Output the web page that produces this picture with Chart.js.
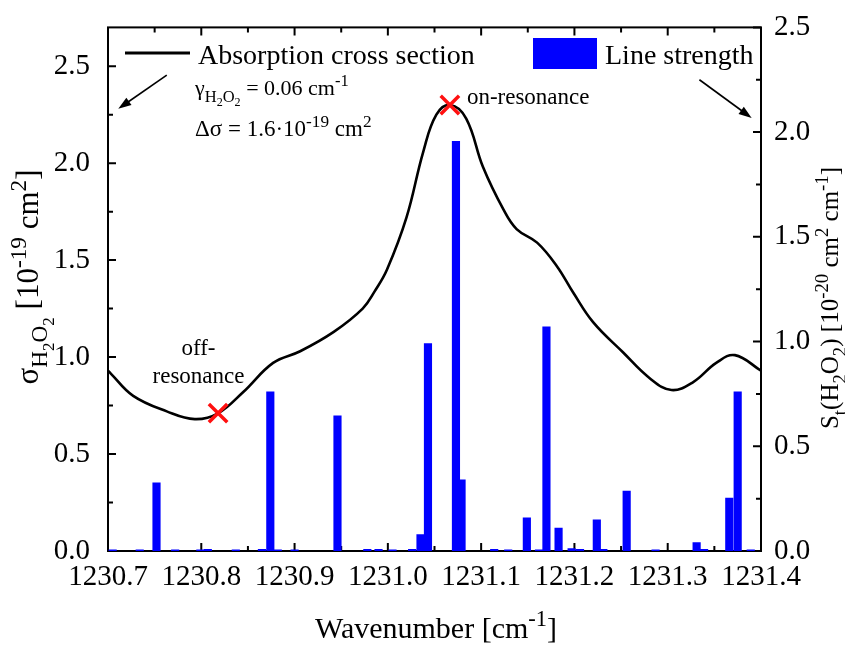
<!DOCTYPE html>
<html>
<head>
<meta charset="utf-8">
<script src="https://cdn.jsdelivr.net/npm/chart.js@4.4.1/dist/chart.umd.min.js"></script>
<style>
  body { margin: 0; background: #fff; }
  #wrap { width: 845px; height: 646px; }
</style>
</head>
<body>
<div id="wrap"><canvas id="chart" width="845" height="646"></canvas></div>
<script>
// absorption cross section (left axis, 1e-19 cm2)
const CURVE_X = [1230.700, 1230.703, 1230.727, 1230.763, 1230.793, 1230.818, 1230.845, 1230.877,
  1230.906, 1230.942, 1230.973, 1230.986, 1230.999, 1231.020, 1231.038, 1231.052, 1231.067,
  1231.084, 1231.102, 1231.124, 1231.138, 1231.160, 1231.181, 1231.199, 1231.220, 1231.252,
  1231.281, 1231.304, 1231.327, 1231.352, 1231.372, 1231.400];
const CURVE_Y = [0.93, 0.915, 0.80, 0.72, 0.68, 0.71, 0.82, 0.97,
  1.03, 1.13, 1.25, 1.34, 1.45, 1.72, 2.06, 2.25, 2.30,
  2.23, 1.98, 1.76, 1.66, 1.59, 1.47, 1.33, 1.18, 1.025,
  0.89, 0.83, 0.87, 0.97, 1.01, 0.93];

// line strengths (right axis, 1e-20 cm2 cm-1)
const LINE_X = [1230.705, 1230.734, 1230.752, 1230.772, 1230.799, 1230.807, 1230.837, 1230.865,
  1230.874, 1230.882, 1230.900, 1230.946, 1230.978, 1230.990, 1231.005, 1231.026, 1231.035,
  1231.043, 1231.073, 1231.079, 1231.114, 1231.129, 1231.149, 1231.162, 1231.170, 1231.183,
  1231.197, 1231.206, 1231.224, 1231.231, 1231.256, 1231.287, 1231.331, 1231.339, 1231.366,
  1231.375, 1231.389];
const LINE_S = [0.006, 0.006, 0.325, 0.006, 0.006, 0.008, 0.006, 0.008,
  0.76, 0.006, 0.006, 0.645, 0.008, 0.008, 0.006, 0.008, 0.078,
  0.99, 1.956, 0.34, 0.008, 0.006, 0.158, 0.006, 1.07, 0.11,
  0.012, 0.008, 0.149, 0.008, 0.286, 0.006, 0.04, 0.008, 0.253,
  0.76, 0.006];

// off- and on-resonance points
const MARK_X = [1230.818, 1231.0665];
const MARK_Y = [0.711, 2.30];

const X_MIN = 1230.7, X_MAX = 1231.4;
const Y_MAX = 2.7, Y2_MAX = 2.5;

const SERIF = '"Liberation Serif", "Times New Roman", serif';

function drawRich(ctx, parts, x, y, size, align) {
  // parts: [text, kind]  kind 0 normal, 1 sub, 2 sup, 3 sub of sub
  const specs = parts.map(([t, k]) => {
    const s = k === 0 ? size : (k === 3 ? size * 0.55 : size * 0.75);
    const dy = k === 1 ? size * 0.3 : k === 2 ? -size * 0.4 : k === 3 ? size * 0.5 : 0;
    ctx.font = `${s}px ${SERIF}`;
    return { t, s, dy, w: ctx.measureText(t).width };
  });
  const total = specs.reduce((a, p) => a + p.w, 0);
  let cx = align === 'center' ? x - total / 2 : x;
  ctx.textAlign = 'left';
  ctx.textBaseline = 'alphabetic';
  ctx.fillStyle = '#000';
  for (const p of specs) {
    ctx.font = `${p.s}px ${SERIF}`;
    ctx.fillText(p.t, cx, y + p.dy);
    cx += p.w;
  }
}

function arrow(ctx, x1, y1, x2, y2) {
  const a = Math.atan2(y2 - y1, x2 - x1);
  ctx.strokeStyle = '#000';
  ctx.fillStyle = '#000';
  ctx.lineWidth = 1.6;
  ctx.beginPath();
  ctx.moveTo(x1, y1);
  ctx.lineTo(x2 - 8 * Math.cos(a), y2 - 8 * Math.sin(a));
  ctx.stroke();
  ctx.beginPath();
  ctx.moveTo(x2, y2);
  ctx.lineTo(x2 - 13 * Math.cos(a) + 4.5 * Math.sin(a), y2 - 13 * Math.sin(a) - 4.5 * Math.cos(a));
  ctx.lineTo(x2 - 13 * Math.cos(a) - 4.5 * Math.sin(a), y2 - 13 * Math.sin(a) + 4.5 * Math.cos(a));
  ctx.closePath();
  ctx.fill();
}

// frame with inward ticks, like the original plot
const frameTicks = {
  id: 'frameTicks',
  beforeDatasetsDraw(chart) {
    const { ctx, chartArea: ca, scales } = chart;
    ctx.save();
    ctx.strokeStyle = '#000';
    ctx.lineWidth = 2;
    ctx.strokeRect(ca.left, ca.top, ca.right - ca.left, ca.bottom - ca.top);
    ctx.beginPath();
    for (let k = 0; k <= 14; k++) {
      const px = scales.x.getPixelForValue(X_MIN + k * 0.05);
      const len = k % 2 === 0 ? 8 : 5;
      ctx.moveTo(px, ca.bottom); ctx.lineTo(px, ca.bottom - len);
      ctx.moveTo(px, ca.top); ctx.lineTo(px, ca.top + len);
    }
    for (let k = 0; k * 0.25 <= Y_MAX + 1e-9; k++) {
      const py = scales.y.getPixelForValue(k * 0.25);
      ctx.moveTo(ca.left, py); ctx.lineTo(ca.left + (k % 2 === 0 ? 8 : 5), py);
    }
    for (let k = 0; k * 0.25 <= Y2_MAX + 1e-9; k++) {
      const py = scales.y2.getPixelForValue(k * 0.25);
      ctx.moveTo(ca.right, py); ctx.lineTo(ca.right - (k % 2 === 0 ? 8 : 5), py);
    }
    ctx.stroke();
    ctx.restore();
  },
  afterDraw(chart) {
    const { ctx, scales } = chart;
    const X = v => scales.x.getPixelForValue(v);
    const Y = v => scales.y.getPixelForValue(v);
    ctx.save();

    // legend
    ctx.strokeStyle = '#000';
    ctx.lineWidth = 3;
    ctx.beginPath();
    ctx.moveTo(125, 53); ctx.lineTo(190, 53);
    ctx.stroke();
    drawRich(ctx, [['Absorption cross section', 0]], 198, 64, 28, 'left');
    ctx.fillStyle = '#0000ff';
    ctx.fillRect(533, 38, 64, 31);
    drawRich(ctx, [['Line strength', 0]], 605, 64, 28, 'left');

    drawRich(ctx, [['\u03b3', 0], ['H', 1], ['2', 3], ['O', 1], ['2', 3], [' = 0.06 cm', 0], ['-1', 2]], 195, 95, 22, 'left');
    drawRich(ctx, [['\u0394\u03c3 = 1.6\u00b710', 0], ['-19', 2], [' cm', 0], ['2', 2]], 195, 136, 23, 'left');

    drawRich(ctx, [['on-resonance', 0]], X(1231.0665) + 17, 104, 23, 'left');
    drawRich(ctx, [['off-', 0]], X(1230.797), 355, 23, 'center');
    drawRich(ctx, [['resonance', 0]], X(1230.797), 383, 23, 'center');

    // arrows pointing to each axis
    arrow(ctx, X(1230.763), Y(2.454), X(1230.711), Y(2.28));
    arrow(ctx, X(1231.334), Y(2.43), X(1231.390), Y(2.233));

    // axis titles
    drawRich(ctx, [['Wavenumber [cm', 0], ['-1', 2], [']', 0]], 436, 638, 30, 'center');

    ctx.save();
    ctx.translate(38, 277);
    ctx.rotate(-Math.PI / 2);
    drawRich(ctx, [['\u03c3', 0], ['H', 1], ['2', 3], ['O', 1], ['2', 3], [' [10', 0], ['-19', 2], [' cm', 0], ['2', 2], [']', 0]], 0, 0, 31, 'center');
    ctx.restore();

    ctx.save();
    ctx.translate(838, 298);
    ctx.rotate(-Math.PI / 2);
    drawRich(ctx, [['S', 0], ['t', 1], ['(H', 0], ['2', 1], ['O', 0], ['2', 1], [') [10', 0], ['-20', 2], [' cm', 0], ['2', 2], [' cm', 0], ['-1', 2], [']', 0]], 0, 0, 25, 'center');
    ctx.restore();

    ctx.restore();
  }
};

const tickFont = { family: SERIF, size: 29 };

new Chart(document.getElementById('chart'), {
  type: 'bar',
  data: {
    datasets: [
      {
        type: 'line',
        label: 'Resonance points',
        data: MARK_X.map((x, i) => ({ x, y: MARK_Y[i] })),
        yAxisID: 'y',
        showLine: false,
        pointStyle: 'crossRot',
        pointRadius: 13,
        pointBorderColor: '#ff1010',
        pointBorderWidth: 3.5,
        order: 0,
      },
      {
        type: 'line',
        label: 'Absorption cross section',
        data: CURVE_X.map((x, i) => ({ x, y: CURVE_Y[i] })),
        yAxisID: 'y',
        borderColor: '#000',
        borderWidth: 2.6,
        pointRadius: 0,
        tension: 0.4,
        fill: false,
        order: 1,
      },
      {
        type: 'bar',
        label: 'Line strength',
        data: LINE_X.map((x, i) => ({ x, y: LINE_S[i] })),
        yAxisID: 'y2',
        backgroundColor: '#0000ff',
        barThickness: 7.5,
        order: 2,
      },
    ],
  },
  options: {
    responsive: false,
    animation: false,
    events: [],
    layout: { padding: { top: 22, left: 0, right: 0, bottom: 0 } },
    plugins: {
      legend: { display: false },
      tooltip: { enabled: false },
    },
    scales: {
      x: {
        type: 'linear',
        min: X_MIN,
        max: X_MAX,
        offset: false,
        grid: { display: false },
        border: { display: false },
        afterFit(scale) { scale.height = 95; },
        ticks: {
          stepSize: 0.1,
          autoSkip: false,
          maxRotation: 0,
          padding: 1,
          color: '#000',
          font: tickFont,
          callback: v => v.toFixed(1),
        },
      },
      y: {
        position: 'left',
        min: 0,
        max: Y_MAX,
        grid: { display: false },
        border: { display: false },
        afterFit(scale) { scale.width = 108; },
        afterBuildTicks(scale) { scale.ticks = scale.ticks.filter(t => Math.abs(t.value * 2 - Math.round(t.value * 2)) < 1e-6); },
        ticks: { stepSize: 0.5, padding: 10, color: '#000', font: tickFont, callback: v => v.toFixed(1) },
      },
      y2: {
        position: 'right',
        min: 0,
        max: Y2_MAX,
        grid: { display: false },
        border: { display: false },
        afterFit(scale) { scale.width = 84; },
        ticks: { stepSize: 0.5, padding: 5, color: '#000', font: tickFont, callback: v => v.toFixed(1) },
      },
    },
  },
  plugins: [frameTicks],
});
</script>
</body>
</html>
